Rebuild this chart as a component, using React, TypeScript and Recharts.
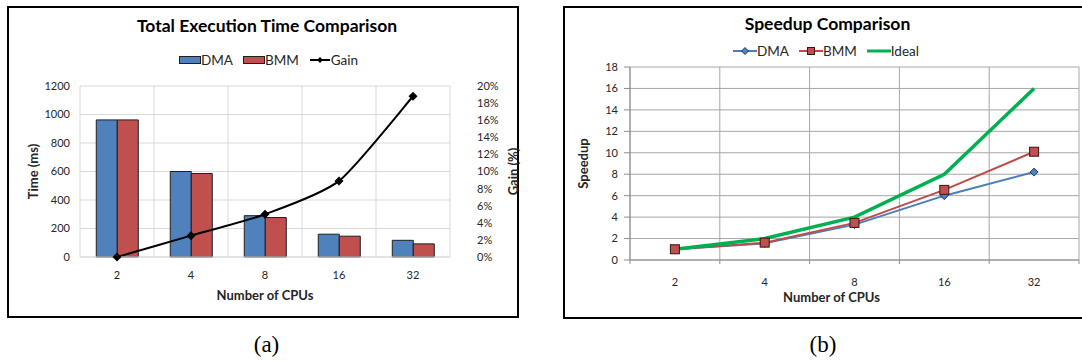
import React from 'react'
import { ComposedChart, Bar, Line, XAxis, YAxis, CartesianGrid, Legend } from 'recharts'

const cpus = ['2', '4', '8', '16', '32']

// (a) total execution time, ms, and gain of BMM over DMA, %
const timeDma = [962, 600, 290, 160, 117]
const timeBmm = [962, 586, 277, 146, 92]
const gainPct = [0, 2.5, 5.0, 8.9, 18.8]
const timeTicks = [0, 200, 400, 600, 800, 1000, 1200]
const gainTicks = [0, 2, 4, 6, 8, 10, 12, 14, 16, 18, 20]

// (b) speedup
const speedDma = [1, 1.55, 3.3, 6.0, 8.2]
const speedBmm = [1, 1.62, 3.46, 6.54, 10.1]
const speedIdeal = [1, 2, 4, 8, 16]
const speedTicks = [0, 2, 4, 6, 8, 10, 12, 14, 16, 18]

const timeOrder = ['DMA', 'BMM', 'Gain']
const speedOrder = ['DMA', 'BMM', 'Ideal']

const FONT = 'Lato, "Open Sans", sans-serif'
const INK = '#262626'
const tickStyle = { fontFamily: FONT, fontSize: 11, fill: INK }

const timeRows = cpus.map((c, i) => ({ cpu: c, dma: timeDma[i], bmm: timeBmm[i], gain: gainPct[i] }))
const speedRows = cpus.map((c, i) => ({ cpu: c, dma: speedDma[i], bmm: speedBmm[i], ideal: speedIdeal[i] }))

// grid lines sit on the category edges, like Excel
const edgeLines = ({ offset }: any) =>
  Array.from({ length: cpus.length + 1 }, (_, i) => offset.left + (offset.width * i) / cpus.length)

// Excel "smoothed line": cardinal-style bezier through the points, fairly tight
const SMOOTH = 1 / 9
const smoothCurve = (context: any) => {
  let pts: number[][] = []
  return {
    areaStart() {},
    areaEnd() {},
    lineStart() { pts = [] },
    point(x: number, y: number) { pts.push([x, y]) },
    lineEnd() {
      if (!pts.length) return
      context.moveTo(pts[0][0], pts[0][1])
      for (let i = 0; i < pts.length - 1; i++) {
        const p0 = pts[Math.max(i - 1, 0)]
        const p1 = pts[i]
        const p2 = pts[i + 1]
        const p3 = pts[Math.min(i + 2, pts.length - 1)]
        context.bezierCurveTo(
          p1[0] + (p2[0] - p0[0]) * SMOOTH, p1[1] + (p2[1] - p0[1]) * SMOOTH,
          p2[0] - (p3[0] - p1[0]) * SMOOTH, p2[1] - (p3[1] - p1[1]) * SMOOTH,
          p2[0], p2[1],
        )
      }
    },
  }
}

const yTitle = (text: string, dx: number) => (props: any) => {
  const vb = props.viewBox
  const x = (dx < 0 ? vb.x + vb.width : vb.x) + dx
  const y = vb.y + vb.height / 2
  return (
    <text x={x} y={y} transform={`rotate(-90 ${x} ${y})`} textAnchor="middle" dominantBaseline="central"
      style={{ fontFamily: FONT, fontSize: 13, fontWeight: 700, fill: INK }}>
      {text}
    </text>
  )
}

const xTitle = (text: string, dy: number, shift: number) => (props: any) => {
  const vb = props.viewBox
  return (
    <text x={vb.x + vb.width / 2 + shift} y={vb.y + dy} textAnchor="middle"
      style={{ fontFamily: FONT, fontSize: 13, fontWeight: 700, fill: INK }}>
      {text}
    </text>
  )
}

const diamond = (cx: number, cy: number, r: number) => `M${cx},${cy - r}L${cx + r},${cy}L${cx},${cy + r}L${cx - r},${cy}Z`

const gainDot = (p: any) => <path key={p.index} d={diamond(p.cx, p.cy, 4.5)} fill="#000" />
const dmaDot = (p: any) => <path key={p.index} d={diamond(p.cx, p.cy, 4)} fill="#4F81BD" stroke="#1f3a60" strokeWidth={1} />
const bmmDot = (p: any) => (
  <rect key={p.index} x={p.cx - 4.5} y={p.cy - 4.5} width={9} height={9} fill="#C0504D" stroke="#3a1413" strokeWidth={1} />
)

const sorted = (items: any[], order: string[]) =>
  items.slice().sort((a, b) => order.indexOf(a.value) - order.indexOf(b.value))

const legendBox = { display: 'flex', justifyContent: 'center', alignItems: 'center', fontFamily: FONT, fontSize: 13.5, color: INK, lineHeight: '16px' }

function TimeLegend(props: any) {
  return (
    <div style={legendBox}>
      {sorted(props.payload ?? [], timeOrder).map((e: any) => (
        <span key={e.value} style={{ display: 'flex', alignItems: 'center', marginRight: 10 }}>
          <svg width={22} height={12}>
            {e.value === 'Gain' ? (
              <>
                <line x1={1} x2={21} y1={6} y2={6} stroke="#000" strokeWidth={2} />
                <path d={diamond(11, 6, 3)} fill="#000" />
              </>
            ) : <rect x={0.5} y={2.5} width={21} height={7} fill={e.color} stroke="#1f1f1f" />}
          </svg>
          {e.value}
        </span>
      ))}
    </div>
  )
}

function SpeedLegend(props: any) {
  return (
    <div style={legendBox}>
      {sorted(props.payload ?? [], speedOrder).map((e: any) => (
        <span key={e.value} style={{ display: 'flex', alignItems: 'center', marginRight: 10 }}>
          <svg width={24} height={12}>
            {e.value === 'Ideal' ? <line x1={0} x2={24} y1={6} y2={6} stroke="#00B050" strokeWidth={3} /> : (
              <>
                <line x1={0} x2={24} y1={6} y2={6} stroke={e.color} strokeWidth={2} />
                {e.value === 'DMA'
                  ? <path d={diamond(12, 6, 3.5)} fill="#4F81BD" stroke="#1f3a60" />
                  : <rect x={8.5} y={2.5} width={7} height={7} fill="#C0504D" stroke="#3a1413" />}
              </>
            )}
          </svg>
          {e.value}
        </span>
      ))}
    </div>
  )
}

// x tick with Excel-style tick marks on the category edges
function EdgeTick(props: any) {
  const { x, y, payload, index, visibleTicksCount } = props
  const half = payload.offset ?? 0
  const axisY = y - 18
  return (
    <g>
      <line x1={x - half} x2={x - half} y1={axisY} y2={axisY + 4} stroke="#8c8c8c" />
      {index === visibleTicksCount - 1 && <line x1={x + half} x2={x + half} y1={axisY} y2={axisY + 4} stroke="#8c8c8c" />}
      <text x={x} y={y} dy="0.71em" textAnchor="middle" style={tickStyle}>{payload.value}</text>
    </g>
  )
}

function TimeChart() {
  return (
    <ComposedChart width={540} height={320} data={timeRows} margin={{ top: 86, right: 30, bottom: 13, left: 20 }} barCategoryGap="22%" barGap={0}>
      <CartesianGrid yAxisId="time" stroke="#d9d9d9" verticalCoordinatesGenerator={edgeLines} />
      <XAxis dataKey="cpu" height={50} tickLine={false} axisLine={{ stroke: '#d9d9d9' }} tick={tickStyle} tickSize={0} tickMargin={14} interval={0}
        label={xTitle('Number of CPUs', 43, 0)} />
      <YAxis yAxisId="time" width={60} domain={[0, 1200]} ticks={timeTicks} axisLine={false} tickLine={false} tickSize={0} tickMargin={10} tick={tickStyle} interval={0}
        label={yTitle('Time (ms)', -47)} />
      <YAxis yAxisId="gain" orientation="right" width={60} domain={[0, 20]} ticks={gainTicks} tickFormatter={(v: number) => `${v}%`} axisLine={false} tickLine={false}
        tickSize={0} tickMargin={27} tick={tickStyle} interval={0} label={yTitle('Gain (%)', 63)} />
      <Legend layout="horizontal" verticalAlign="middle" align="center" wrapperStyle={{ top: 52, left: 0, width: 547 }} content={TimeLegend} />
      <Bar yAxisId="time" dataKey="dma" name="DMA" fill="#4F81BD" stroke="#1f1f1f" strokeWidth={1} isAnimationActive={false} />
      <Bar yAxisId="time" dataKey="bmm" name="BMM" fill="#C0504D" stroke="#1f1f1f" strokeWidth={1} isAnimationActive={false} />
      <Line yAxisId="gain" type={smoothCurve as any} dataKey="gain" name="Gain" stroke="#000" strokeWidth={2} dot={gainDot} isAnimationActive={false} />
    </ComposedChart>
  )
}

function SpeedChart() {
  return (
    <ComposedChart width={522} height={320} data={speedRows} margin={{ top: 67, right: 3, bottom: 13, left: 20 }}>
      <CartesianGrid stroke="#a6a6a6" verticalCoordinatesGenerator={edgeLines} />
      <XAxis dataKey="cpu" scale="band" height={47} axisLine={{ stroke: '#8c8c8c' }} tickLine={false} tickSize={4} tickMargin={14} tick={<EdgeTick />} interval={0}
        label={xTitle('Number of CPUs', 42, -23)} />
      <YAxis width={50} domain={[0, 18]} ticks={speedTicks} axisLine={{ stroke: '#8c8c8c' }} tickLine={{ stroke: '#8c8c8c' }} tickSize={6} tickMargin={6}
        tick={tickStyle} interval={0} label={yTitle('Speedup', -47)} />
      <Legend layout="horizontal" verticalAlign="middle" align="center" wrapperStyle={{ top: 43, left: 0, width: 542 }} content={SpeedLegend} />
      <Line type="linear" dataKey="dma" name="DMA" stroke="#4A7EBB" strokeWidth={2} dot={dmaDot} isAnimationActive={false} />
      <Line type="linear" dataKey="bmm" name="BMM" stroke="#BE4B48" strokeWidth={2} dot={bmmDot} isAnimationActive={false} />
      <Line type="linear" dataKey="ideal" name="Ideal" stroke="#00B050" strokeWidth={3.5} dot={false} isAnimationActive={false} />
    </ComposedChart>
  )
}

export default function App() {
  const titleStyle = { fontFamily: FONT, fontSize: 17.5, fontWeight: 700, fill: '#000' }
  const capStyle = { fontFamily: '"Liberation Serif", "DejaVu Serif", serif', fontSize: 23, fill: '#000' }
  return (
    <div style={{ position: 'absolute', left: 0, top: 0, width: 1082, height: 362, overflow: 'hidden', background: '#fff' }}>
      <svg width={1082} height={362} style={{ position: 'absolute', left: 0, top: 0 }}>
        <rect x={8} y={7} width={510} height={310} fill="none" stroke="#000" strokeWidth={2} />
        <rect x={564} y={7} width={540} height={311} fill="none" stroke="#000" strokeWidth={2} />
        <text x={267} y={31.5} textAnchor="middle" style={titleStyle}>Total Execution Time Comparison</text>
        <text x={827.5} y={30} textAnchor="middle" style={titleStyle}>Speedup Comparison</text>
        <text x={266.5} y={351.5} textAnchor="middle" style={capStyle}>(a)</text>
        <text x={823} y={351.5} textAnchor="middle" style={capStyle}>(b)</text>
      </svg>
      <div style={{ position: 'absolute', left: 0, top: 0 }}>
        <TimeChart />
      </div>
      <div style={{ position: 'absolute', left: 560, top: 0 }}>
        <SpeedChart />
      </div>
    </div>
  )
}
